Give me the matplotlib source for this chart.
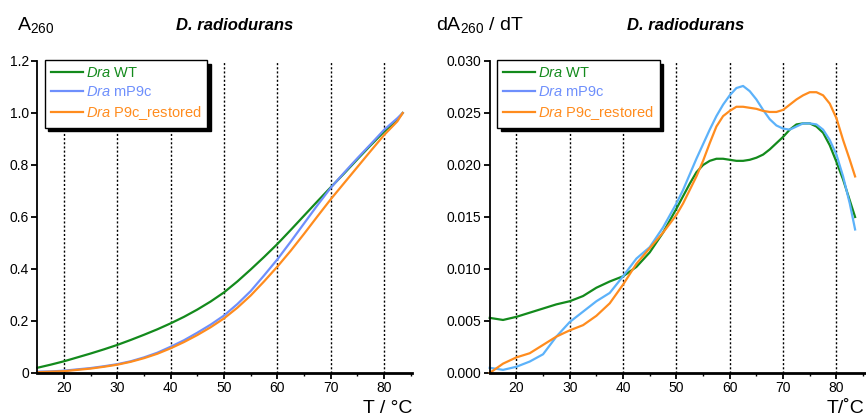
import matplotlib
matplotlib.use("Agg")
import matplotlib.pyplot as plt
from matplotlib.ticker import MultipleLocator, FixedLocator, FormatStrFormatter

plt.rcParams['font.family'] = ['Liberation Sans', 'DejaVu Sans']
plt.rcParams['mathtext.fontset'] = 'custom'
plt.rcParams['mathtext.rm'] = 'Liberation Sans'
plt.rcParams['mathtext.it'] = 'Liberation Sans:italic'
plt.rcParams['mathtext.bf'] = 'Liberation Sans:bold'

# temperatures (deg C) for the melting curves
temp = [15, 17.5, 20, 22.5, 25, 27.5, 30, 32.5, 35, 37.5, 40, 42.5, 45, 47.5, 50,
        52.5, 55, 57.5, 60, 62.5, 65, 67.5, 70, 72.5, 75, 77.5, 80, 82.5, 83.5]

# normalised A260 melting curves
a_wt = [0.020, 0.032, 0.045, 0.060, 0.075, 0.091, 0.108, 0.127, 0.147, 0.168, 0.191,
        0.216, 0.244, 0.275, 0.310, 0.352, 0.398, 0.446, 0.496, 0.550, 0.605, 0.660,
        0.714, 0.767, 0.822, 0.876, 0.928, 0.975, 1.0]
a_mp9c = [0.005, 0.006, 0.009, 0.014, 0.019, 0.026, 0.034, 0.045, 0.060, 0.078, 0.101,
          0.126, 0.155, 0.186, 0.221, 0.265, 0.315, 0.375, 0.437, 0.505, 0.575, 0.645,
          0.712, 0.770, 0.826, 0.880, 0.935, 0.980, 1.0]
a_rest = [0.003, 0.005, 0.007, 0.012, 0.017, 0.024, 0.032, 0.043, 0.057, 0.074, 0.095,
          0.119, 0.146, 0.176, 0.210, 0.251, 0.298, 0.352, 0.409, 0.470, 0.535, 0.602,
          0.668, 0.730, 0.792, 0.854, 0.915, 0.968, 1.0]

# temperatures for the derivative curves (finer where the peaks are)
temp_d = [15, 17.5, 20, 22.5, 25, 27.5, 30, 32.5, 35, 37.5, 40, 42.5, 45, 47.5,
          50, 51.25, 52.5, 53.75, 55, 56.25, 57.5, 58.75, 60, 61.25, 62.5, 63.75,
          65, 66.25, 67.5, 68.75, 70, 71.25, 72.5, 73.75, 75, 76.25, 77.5, 78.75,
          80, 81.25, 82.5, 83.5]

# first derivative dA260/dT
d_wt = [0.0053, 0.0051, 0.0054, 0.0058, 0.0062, 0.0066, 0.0069, 0.0074, 0.0082, 0.0088,
        0.0093, 0.0102, 0.0116, 0.0135,
        0.0158, 0.0170, 0.0182, 0.0193, 0.0200, 0.0204, 0.0206, 0.0206, 0.0205, 0.0204,
        0.0204, 0.0205, 0.0207, 0.0210, 0.0215, 0.0221, 0.0227, 0.0234, 0.0239, 0.0240,
        0.0240, 0.0237, 0.0231, 0.0219, 0.0203, 0.0186, 0.0166, 0.0150]
d_mp9c = [0.0005, 0.0003, 0.0006, 0.0011, 0.0018, 0.0035, 0.0049, 0.0059, 0.0069, 0.0077,
          0.0093, 0.0110, 0.0121, 0.0140,
          0.0163, 0.0176, 0.0191, 0.0206, 0.0220, 0.0234, 0.0247, 0.0258, 0.0267, 0.0274,
          0.0276, 0.0271, 0.0263, 0.0253, 0.0244, 0.0238, 0.0235, 0.0234, 0.0237, 0.0240,
          0.0240, 0.0239, 0.0234, 0.0224, 0.0210, 0.0189, 0.0163, 0.0138]
d_rest = [0.0000, 0.0009, 0.0015, 0.0019, 0.0027, 0.0035, 0.0041, 0.0046, 0.0055, 0.0067,
          0.0085, 0.0105, 0.0120, 0.0135,
          0.0152, 0.0163, 0.0176, 0.0189, 0.0204, 0.0221, 0.0237, 0.0247, 0.0252, 0.0256,
          0.0256, 0.0255, 0.0254, 0.0252, 0.0251, 0.0251, 0.0253, 0.0258, 0.0263, 0.0267,
          0.0270, 0.0270, 0.0267, 0.0259, 0.0245, 0.0224, 0.0205, 0.0189]

labels = [r'$\it{Dra}$ WT', r'$\it{Dra}$ mP9c', r'$\it{Dra}$ P9c_restored']
green = '#138a1c'
blue_l = '#6e8ffc'
blue_r = '#5cb2fa'
orange = '#ff8c1e'

fig = plt.figure(figsize=(8.66, 4.17), dpi=100)
ax1 = fig.add_axes([37.3 / 866, 44 / 417, 375 / 866, 312 / 417])
ax2 = fig.add_axes([489.7 / 866, 44 / 417, 375 / 866, 312 / 417])


def style(ax):
    ax.set_xlim(15, 85.3)
    for s in ['top', 'right']:
        ax.spines[s].set_visible(False)
    ax.spines['left'].set_linewidth(1.3)
    ax.spines['bottom'].set_linewidth(2.0)
    ax.xaxis.set_major_locator(FixedLocator([20, 30, 40, 50, 60, 70, 80]))
    ax.xaxis.set_minor_locator(FixedLocator([25, 35, 45, 55, 65, 75, 85]))
    ax.tick_params(axis='both', which='major', direction='out', length=4, width=1.3,
                   labelsize=10, pad=2)
    ax.tick_params(axis='x', which='minor', direction='out', length=2.5, width=1)
    ax.grid(axis='x', which='major', color='k', linestyle=(0, (1.5, 1.5)), linewidth=1)
    ax.set_axisbelow(True)


def add_legend(ax, handles):
    leg = ax.legend(handles, labels, loc='upper left', bbox_to_anchor=(0.0205, 1.003),
                    borderaxespad=0, fontsize=10.5, frameon=True, fancybox=False,
                    handlelength=2.2, handletextpad=0.2, labelspacing=0.35,
                    borderpad=0.4, labelcolor='linecolor',
                    shadow={'color': 'k', 'alpha': 1.0, 'ox': 2.5, 'oy': -2.5})
    leg.get_frame().set_edgecolor('k')
    leg.get_frame().set_linewidth(1.0)
    leg.get_frame().set_alpha(1.0)


# left panel: melting curves
style(ax1)
ax1.set_ylim(0, 1.2)
ax1.set_yticks([0, 0.2, 0.4, 0.6, 0.8, 1.0, 1.2])
ax1.set_yticklabels(['0', '0.2', '0.4', '0.6', '0.8', '1.0', '1.2'])
h1, = ax1.plot(temp, a_wt, color=green, lw=1.6, clip_on=False)
h2, = ax1.plot(temp, a_mp9c, color=blue_l, lw=1.6, clip_on=False)
h3, = ax1.plot(temp, a_rest, color=orange, lw=1.6, clip_on=False)
add_legend(ax1, [h1, h2, h3])
fig.text(17 / 866, 1 - 30 / 417, r'A$_{260}$', fontsize=14, ha='left', va='baseline')
fig.text(234.5 / 866, 1 - 30 / 417, 'D. radiodurans', fontsize=12, fontweight='bold',
         fontstyle='italic', ha='center', va='baseline')
fig.text(412 / 866, 1 - 413 / 417, 'T / °C', fontsize=14, ha='right', va='baseline')

# right panel: derivative curves
style(ax2)
ax2.set_ylim(0, 0.030)
ax2.yaxis.set_major_locator(MultipleLocator(0.005))
ax2.yaxis.set_major_formatter(FormatStrFormatter('%.3f'))
ax2.plot(temp_d, d_wt, color=green, lw=1.6, clip_on=False, solid_joinstyle='round')
ax2.plot(temp_d, d_mp9c, color=blue_r, lw=1.6, clip_on=False, solid_joinstyle='round')
ax2.plot(temp_d, d_rest, color=orange, lw=1.6, clip_on=False, solid_joinstyle='round')
lh = [plt.Line2D([], [], color=green, lw=1.6),
      plt.Line2D([], [], color=blue_l, lw=1.6),
      plt.Line2D([], [], color=orange, lw=1.6)]
add_legend(ax2, lh)
fig.text(436 / 866, 1 - 30 / 417, r'dA$_{260}$ / dT', fontsize=14, ha='left', va='baseline')
fig.text(686 / 866, 1 - 30 / 417, 'D. radiodurans', fontsize=12, fontweight='bold',
         fontstyle='italic', ha='center', va='baseline')
fig.text(864 / 866, 1 - 413 / 417, 'T/˚C', fontsize=14, ha='right', va='baseline')

fig.savefig('out.png', dpi=100)
